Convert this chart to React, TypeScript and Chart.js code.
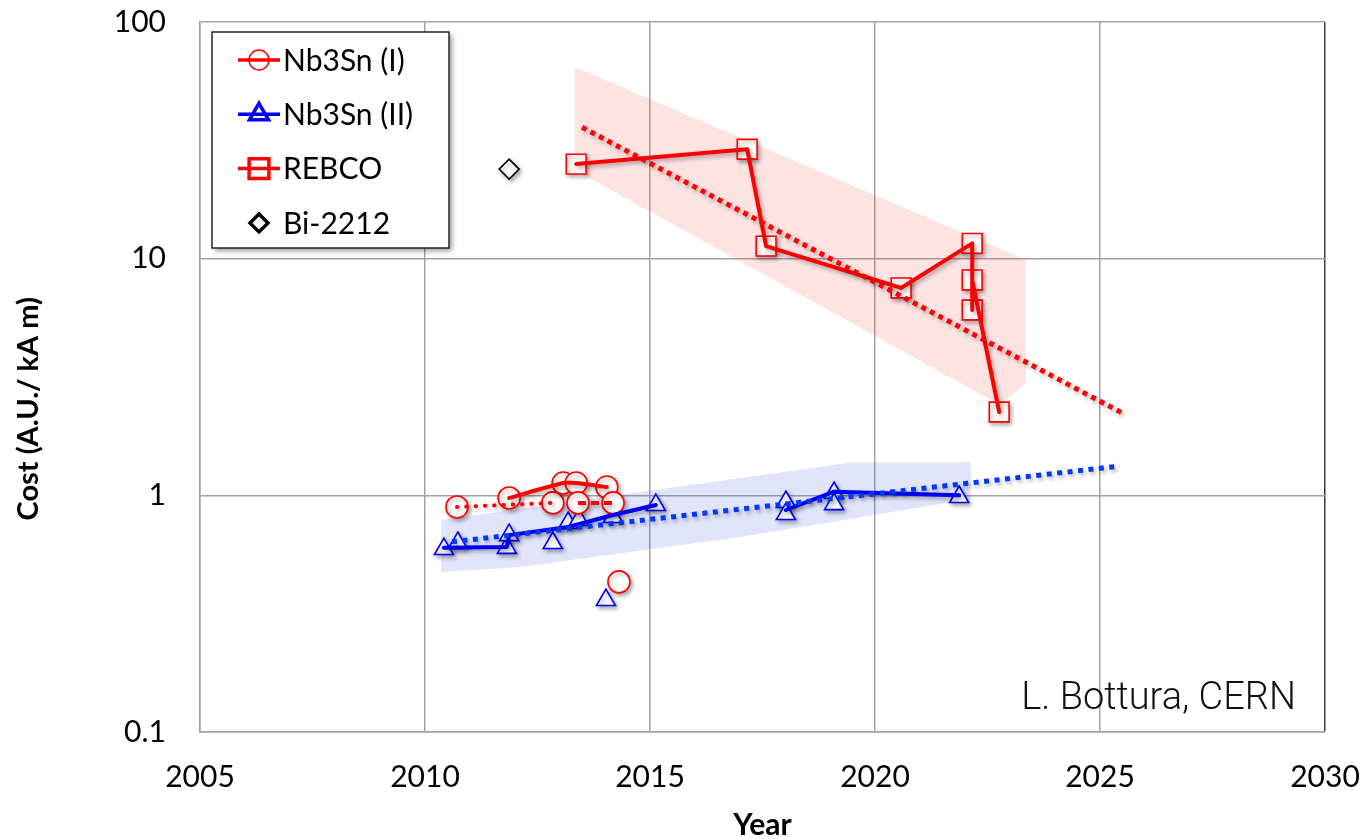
import React, { useEffect, useRef } from 'react';
import { Chart, registerables } from 'chart.js';
import { drawPoint } from 'chart.js/helpers';

Chart.register(...registerables);

// ---------- data ----------
const xTicks = [2005, 2010, 2015, 2020, 2025, 2030];
const yTicks = [0.1, 1, 10, 100];
const seriesNames = ['Nb3Sn (I)', 'Nb3Sn (II)', 'REBCO', 'Bi-2212'];
const xTitle = 'Year';
const yTitle = 'Cost (A.U./ kA m)';
const creditText = 'L. Bottura, CERN';

// Nb3Sn (I) markers
const nb1Years = [2010.71, 2011.87, 2012.84, 2013.07, 2013.36, 2013.4, 2014.04, 2014.18, 2014.31];
const nb1Cost = [0.893, 0.975, 0.929, 1.127, 1.127, 0.929, 1.084, 0.929, 0.431];
// Nb3Sn (I) connecting lines
const nb1SolidYears = [2011.87, 2013.07, 2013.36, 2014.04];
const nb1SolidCost = [0.975, 1.127, 1.127, 1.084];
const nb1DottedYears = [2010.71, 2012.84];
const nb1DottedCost = [0.893, 0.929];
const nb1DashedYears = [2013.4, 2014.18];
const nb1DashedCost = [0.929, 0.929];

// Nb3Sn (II) markers
const nb2Years = [2010.42, 2010.73, 2011.82, 2011.87, 2012.84, 2013.18, 2013.42, 2014.18, 2015.13, 2014.02, 2018.02, 2018.02, 2019.09, 2019.09, 2021.87];
const nb2Cost = [0.593, 0.629, 0.6, 0.679, 0.629, 0.764, 0.787, 0.81, 0.91, 0.361, 0.937, 0.834, 1.023, 0.918, 0.984];
// Nb3Sn (II) connecting lines
const nb2LineAYears = [2010.42, 2011.82, 2011.87, 2013.18, 2014.18, 2015.13];
const nb2LineACost = [0.601, 0.605, 0.679, 0.735, 0.826, 0.91];
const nb2LineBYears = [2018.02, 2019.09, 2021.87];
const nb2LineBCost = [0.867, 1.036, 1.0];

// REBCO
const rebcoYears = [2013.36, 2017.16, 2017.58, 2020.58, 2022.16, 2022.16, 2022.16, 2022.76];
const rebcoCost = [25.1, 29.0, 11.3, 7.52, 11.6, 6.07, 8.13, 2.25];

// Bi-2212
const biYears = [2011.87];
const biCost = [23.9];

// Trend lines
const rebcoTrendYears = [2013.49, 2025.49];
const rebcoTrendCost = [35.9, 2.23];
const nb3snTrendYears = [2010.6, 2025.44];
const nb3snTrendCost = [0.636, 1.33];

// Uncertainty bands (closed polygons)
const rebcoBandYears = [2013.33, 2023.36, 2023.36, 2022.78, 2013.33, 2013.33];
const rebcoBandCost = [64.6, 9.87, 2.99, 2.41, 23.7, 64.6];
const nb3snBandYears = [2010.36, 2019.51, 2022.13, 2022.13, 2017.0, 2012.11, 2010.36, 2010.36];
const nb3snBandCost = [0.787, 1.38, 1.38, 0.965, 0.667, 0.498, 0.474, 0.787];

// ---------- helpers ----------
const pts = (xs: number[], ys: number[]) => xs.map((x, i) => ({ x, y: ys[i] }));

const RED = '#ff0000';
const BLUE = '#0000ff';
const BLUE_TREND = '#0038ff';
const GRID = '#a3a3a3';

const lineDs = (xs: number[], ys: number[], color: string, width: number, dash: number[] = [], cap = 'butt', tension = 0) => ({
  data: pts(xs, ys),
  showLine: true,
  borderColor: color,
  borderWidth: width,
  borderDash: dash,
  borderCapStyle: cap,
  borderJoinStyle: 'round',
  pointRadius: 0,
  tension,
  fill: false,
  order: 5,
  shadow: true,
});

const markerDs = (xs: number[], ys: number[], color: string, style: string, radius: number) => ({
  data: pts(xs, ys),
  showLine: false,
  pointStyle: style,
  pointRadius: radius,
  pointBorderWidth: 1.6,
  pointBorderColor: color,
  pointBackgroundColor: '#ffffff',
  order: 10,
  shadow: true,
});

const bandDs = (xs: number[], ys: number[], color: string) => ({
  data: pts(xs, ys),
  showLine: true,
  borderColor: 'rgba(0,0,0,0)',
  borderWidth: 0,
  backgroundColor: color,
  fill: 'shape',
  pointRadius: 0,
  order: 20,
});

const shadowPlugin = {
  id: 'dsShadow',
  beforeDatasetDraw(chart: any, args: any) {
    const ds = chart.data.datasets[args.index];
    if (ds && ds.shadow) {
      const c = chart.ctx;
      c.save();
      c.shadowColor = 'rgba(0,0,0,0.32)';
      c.shadowBlur = 4;
      c.shadowOffsetX = 2;
      c.shadowOffsetY = 2.5;
    }
  },
  afterDatasetDraw(chart: any, args: any) {
    const ds = chart.data.datasets[args.index];
    if (ds && ds.shadow) chart.ctx.restore();
  },
};

const legendPlugin = {
  id: 'boxLegend',
  afterDraw(chart: any) {
    const c = chart.ctx;
    const bx = 212, by = 32, bw = 237, bh = 216;
    c.save();
    c.shadowColor = 'rgba(0,0,0,0.4)';
    c.shadowBlur = 5;
    c.shadowOffsetX = 3;
    c.shadowOffsetY = 3;
    c.fillStyle = '#ffffff';
    c.fillRect(bx, by, bw, bh);
    c.restore();
    c.save();
    c.strokeStyle = '#262626';
    c.lineWidth = 1.5;
    c.strokeRect(bx, by, bw, bh);
    const styles = [
      { color: RED, style: 'circle', r: 10, line: true },
      { color: BLUE, style: 'triangle', r: 11, line: true },
      { color: RED, style: 'rect', r: 14, line: true },
      { color: '#000000', style: 'rectRot', r: 9, line: false },
    ];
    styles.forEach((s, i) => {
      const y = 60 + i * 54.3;
      const mx = 259;
      c.fillStyle = '#ffffff';
      c.strokeStyle = s.color;
      drawPoint(c, { pointStyle: s.style, radius: s.r, borderWidth: 1.6, rotation: 0 } as any, mx, y);
      if (s.line) {
        c.beginPath();
        c.strokeStyle = s.color;
        c.lineWidth = 3.5;
        c.moveTo(238, y);
        c.lineTo(280, y);
        c.stroke();
      }
      c.fillStyle = '#000000';
      c.font = '30px Lato';
      c.textAlign = 'left';
      c.textBaseline = 'middle';
      c.fillText(seriesNames[i], 283, y + 1);
    });
    // credit text
    c.font = '300 38px Roboto, "Liberation Sans"';
    c.fillStyle = '#111111';
    c.textAlign = 'right';
    c.textBaseline = 'alphabetic';
    c.fillText(creditText, 1296, 709);
    c.restore();
  },
};

export default function App() {
  const ref = useRef<HTMLCanvasElement>(null);

  useEffect(() => {
    if (!ref.current) return;
    Chart.defaults.font.family = 'Lato';
    const datasets: any[] = [
      // trends (top)
      { ...lineDs(rebcoTrendYears, rebcoTrendCost, RED, 5, [5, 4.6]), order: 1, label: 'REBCO trend' },
      { ...lineDs(nb3snTrendYears, nb3snTrendCost, BLUE_TREND, 5, [5, 5.5]), order: 1, label: 'Nb3Sn trend' },
      // connecting lines
      { ...lineDs(nb1SolidYears, nb1SolidCost, RED, 4, [], 'round', 0.25), label: seriesNames[0] + ' line' },
      { ...lineDs(nb1DottedYears, nb1DottedCost, RED, 4, [0.5, 8.8], 'round'), label: seriesNames[0] + ' dotted' },
      { ...lineDs(nb1DashedYears, nb1DashedCost, RED, 4, [8, 5]), label: seriesNames[0] + ' dashed' },
      { ...lineDs(nb2LineAYears, nb2LineACost, BLUE, 4, [], 'round'), label: seriesNames[1] + ' line A' },
      { ...lineDs(nb2LineBYears, nb2LineBCost, BLUE, 4, [], 'round'), label: seriesNames[1] + ' line B' },
      { ...lineDs(rebcoYears, rebcoCost, RED, 4, [], 'round'), label: seriesNames[2] + ' line' },
      // markers
      { ...markerDs(nb1Years, nb1Cost, RED, 'circle', 11), label: seriesNames[0] },
      { ...markerDs(nb2Years, nb2Cost, BLUE, 'triangle', 11), label: seriesNames[1] },
      { ...markerDs(rebcoYears, rebcoCost, RED, 'rect', 14), label: seriesNames[2] },
      { ...markerDs(biYears, biCost, '#000000', 'rectRot', 10), label: seriesNames[3] },
      // bands
      { ...bandDs(rebcoBandYears, rebcoBandCost, 'rgba(245,70,70,0.15)'), label: 'REBCO band' },
      { ...bandDs(nb3snBandYears, nb3snBandCost, 'rgba(70,90,230,0.16)'), label: 'Nb3Sn band' },
    ];

    const chart = new Chart(ref.current, {
      type: 'scatter',
      data: { datasets },
      options: {
        animation: false,
        responsive: false,
        devicePixelRatio: 1,
        events: [],
        layout: { padding: { top: 22, right: 41, bottom: 0, left: 0 } },
        plugins: {
          legend: { display: false },
          tooltip: { enabled: false },
        },
        scales: {
          x: {
            type: 'linear',
            min: 2005,
            max: 2030,
            afterFit: (s: any) => { s.height = 107; s.paddingLeft = 0; s.paddingRight = 0; },
            afterBuildTicks: (s: any) => { s.ticks = xTicks.map((v) => ({ value: v })); },
            ticks: {
              callback: (v: any) => String(v),
              font: { size: 30, family: 'Lato' },
              color: '#000000',
              padding: 27,
              maxRotation: 0,
              autoSkip: false,
            },
            grid: {
              color: (ctx: any) => (ctx.tick && ctx.tick.value === 2030 ? '#3a3a3a' : GRID),
              lineWidth: 1.5,
              drawTicks: false,
            },
            border: { color: GRID, width: 1.5 },
            title: {
              display: true,
              text: xTitle,
              color: '#000000',
              font: { size: 30, weight: 'bold', family: 'Lato', lineHeight: 1.2 },
              padding: { top: 0, bottom: -4 },
            },
          },
          y: {
            type: 'logarithmic',
            min: 0.1,
            max: 100,
            afterFit: (s: any) => { s.width = 200; s.paddingTop = 0; s.paddingBottom = 0; },
            afterBuildTicks: (s: any) => { s.ticks = yTicks.map((v) => ({ value: v })); },
            ticks: {
              callback: (v: any) => String(v),
              font: { size: 30, family: 'Lato' },
              color: '#000000',
              padding: 34,
              autoSkip: false,
            },
            grid: { color: GRID, lineWidth: 1.5, drawTicks: false },
            border: { color: GRID, width: 1.5 },
            title: {
              display: true,
              text: yTitle + '         ',
              color: '#000000',
              font: { size: 29, weight: 'bold', family: 'Lato', lineHeight: 1.2 },
              padding: { top: 11, bottom: 0 },
            },
          },
        },
      } as any,
      plugins: [shadowPlugin, legendPlugin],
    });
    return () => chart.destroy();
  }, []);

  return (
    <div style={{ position: 'absolute', left: 0, top: 0, width: 1366, height: 839, background: '#ffffff' }}>
      <canvas ref={ref} width={1366} height={839} style={{ display: 'block', width: 1366, height: 839 }} />
    </div>
  );
}
